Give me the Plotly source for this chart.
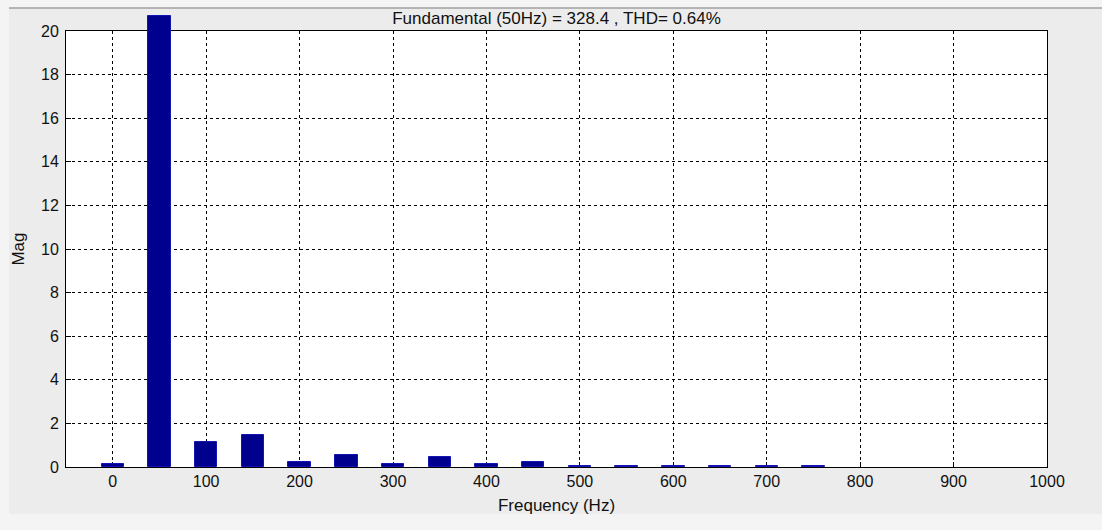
import plotly.graph_objects as go

freq_hz = [0, 50, 100, 150, 200, 250, 300, 350, 400, 450, 500, 550, 600, 650, 700, 750]
magnitude = [0.12, 20.7, 1.15, 1.45, 0.25, 0.54, 0.12, 0.47, 0.12, 0.25, 0.05, 0.05, 0.05, 0.04, 0.04, 0.04]
x_ticks = [0, 100, 200, 300, 400, 500, 600, 700, 800, 900, 1000]
y_ticks = [0, 2, 4, 6, 8, 10, 12, 14, 16, 18, 20]
title_text = "Fundamental (50Hz) = 328.4 , THD= 0.64%"

FONT = "Liberation Sans, Arial, Helvetica, sans-serif"
TXT = "#111111"

W, H = 1102, 530
M_L, M_R, M_T, M_B = 66, 55, 14, 63
plot_w = W - M_L - M_R
plot_h = H - M_T - M_B            # total height available for the bar overlay
axes_h = 467 - 31                 # height of the framed axes box
frac = axes_h / plot_h


def px_x(p):
    return (p - M_L) / plot_w


def px_y(p):
    return (H - M_B - p) / plot_h


fig = go.Figure()
# invisible trace so the framed axes subplot (x / y) gets drawn
fig.add_trace(go.Scatter(
    x=freq_hz, y=magnitude, mode="none", xaxis="x", yaxis="y",
    showlegend=False, hoverinfo="skip",
))
# bars live on an overlay subplot whose scale matches the framed axes but reaches higher
fig.add_trace(go.Bar(
    x=freq_hz, y=magnitude, width=24, xaxis="x2", yaxis="y2",
    marker=dict(color="#00008f", line=dict(color="#1414b4", width=1)),
    showlegend=False, hoverinfo="x+y",
))

axis_common = dict(
    showline=True, linecolor="black", linewidth=1, mirror=True,
    showgrid=True, gridcolor="black", gridwidth=1, griddash="3px,3px",
    ticks="inside", ticklen=5, tickcolor="black",
    zeroline=False, automargin=False,
    tickfont=dict(family=FONT, size=16, color=TXT),
)

fig.update_layout(
    width=W, height=H,
    paper_bgcolor="#f4f4f4", plot_bgcolor="rgba(0,0,0,0)",
    margin=dict(l=M_L, r=M_R, t=M_T, b=M_B, autoexpand=False),
    font=dict(family=FONT, size=16, color=TXT),
    title=dict(text=title_text, x=(66 + 1047) / 2 / W, xanchor="center",
               y=1 - 18 / H, yanchor="middle", yref="container", automargin=False,
               font=dict(family=FONT, size=17, color=TXT)),
    xaxis=dict(range=[-50, 1000], domain=[0, 1], anchor="y",
               tickvals=x_ticks, ticktext=[str(v) for v in x_ticks],
               title=dict(text="Frequency (Hz)", standoff=9,
                          font=dict(family=FONT, size=17, color=TXT)),
               **axis_common),
    yaxis=dict(range=[0, 20], domain=[0, frac], anchor="x",
               tickvals=y_ticks, ticktext=[str(v) for v in y_ticks],
               ticklabelstandoff=3,
               title=dict(text="Mag", standoff=12,
                          font=dict(family=FONT, size=17, color=TXT)),
               **axis_common),
    xaxis2=dict(range=[-50, 1000], domain=[0, 1], anchor="y2", visible=False),
    yaxis2=dict(range=[0, 20 / frac], domain=[0, 1], anchor="x2", visible=False),
    bargap=0,
)

# window panel background
fig.add_shape(type="rect", xref="paper", yref="paper",
              x0=px_x(9), x1=px_x(W), y0=px_y(514), y1=px_y(8),
              fillcolor="#ececec", line=dict(width=0), layer="below")
# white axes background (below gridlines)
fig.add_shape(type="rect", xref="x domain", yref="y domain", x0=0, x1=1, y0=0, y1=1,
              fillcolor="white", line=dict(width=0), layer="below")
# thin frame line at top of window
fig.add_shape(type="line", xref="paper", yref="paper", x0=px_x(9), x1=px_x(W),
              y0=px_y(8), y1=px_y(8), line=dict(color="#a0a0a0", width=1.5))

fig.write_html("out.html", config={"displayModeBar": False},
               post_script="document.body.style.margin='0';")
